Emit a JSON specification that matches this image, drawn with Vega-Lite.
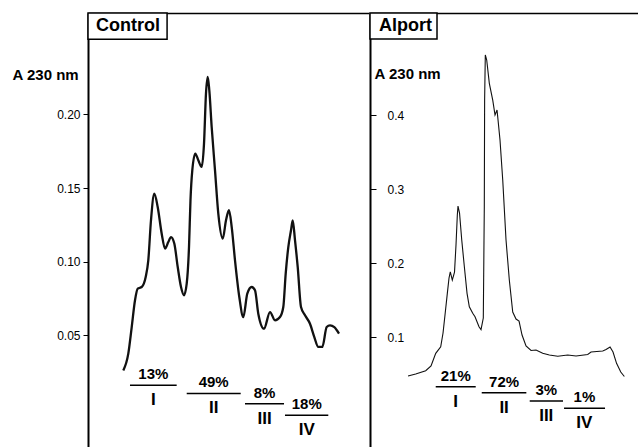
{
  "$schema": "https://vega.github.io/schema/vega-lite/v6.json",
  "padding": {"left": 12, "top": 12, "right": 0, "bottom": 0},
  "spacing": 0,
  "config": {
    "view": {"stroke": null},
    "font": "Liberation Sans",
    "axis": {"grid": false, "labelFont": "Liberation Sans", "labelFontSize": 12, "labelColor": "#000", "tickColor": "#000", "domainColor": "#000", "titleFont": "Liberation Sans", "titleColor": "#000"},
    "text": {"font": "Liberation Sans", "color": "#000"}
  },
  "datasets": {
    "control": [
      {"t": 8.79, "a": 0.0262}, {"t": 10.04, "a": 0.0376}, {"t": 10.89, "a": 0.0556}, {"t": 11.71, "a": 0.0738},
      {"t": 12.38, "a": 0.0817}, {"t": 13.38, "a": 0.0828}, {"t": 14.37, "a": 0.0896}, {"t": 15.02, "a": 0.1009},
      {"t": 15.69, "a": 0.1281}, {"t": 16.52, "a": 0.1462}, {"t": 17.36, "a": 0.1371}, {"t": 18.36, "a": 0.119},
      {"t": 19.18, "a": 0.1089}, {"t": 20.0, "a": 0.1133}, {"t": 20.68, "a": 0.1167}, {"t": 21.5, "a": 0.1123},
      {"t": 22.35, "a": 0.0964}, {"t": 23.17, "a": 0.0828}, {"t": 23.91, "a": 0.0772}, {"t": 24.59, "a": 0.0851},
      {"t": 25.16, "a": 0.1099}, {"t": 25.53, "a": 0.1417}, {"t": 25.98, "a": 0.162}, {"t": 26.73, "a": 0.1734},
      {"t": 27.48, "a": 0.1688}, {"t": 28.32, "a": 0.1643}, {"t": 28.9, "a": 0.1801}, {"t": 29.39, "a": 0.2141},
      {"t": 29.82, "a": 0.2254}, {"t": 30.22, "a": 0.2163}, {"t": 30.81, "a": 0.1914}, {"t": 31.64, "a": 0.162},
      {"t": 32.46, "a": 0.1326}, {"t": 33.56, "a": 0.1156}, {"t": 34.38, "a": 0.1281}, {"t": 35.12, "a": 0.1349},
      {"t": 35.8, "a": 0.1235}, {"t": 36.62, "a": 0.1009}, {"t": 37.69, "a": 0.076}, {"t": 38.69, "a": 0.0624},
      {"t": 39.68, "a": 0.0783}, {"t": 40.78, "a": 0.0828}, {"t": 41.6, "a": 0.0806}, {"t": 42.42, "a": 0.0647},
      {"t": 43.84, "a": 0.0545}, {"t": 45.34, "a": 0.0658}, {"t": 46.58, "a": 0.0602}, {"t": 47.83, "a": 0.0624},
      {"t": 48.65, "a": 0.0692}, {"t": 49.25, "a": 0.0919}, {"t": 49.9, "a": 0.1099}, {"t": 50.57, "a": 0.1213},
      {"t": 50.99, "a": 0.1281}, {"t": 51.57, "a": 0.1145}, {"t": 52.24, "a": 0.0964}, {"t": 53.06, "a": 0.0692},
      {"t": 54.06, "a": 0.0636}, {"t": 55.3, "a": 0.0579}, {"t": 56.38, "a": 0.0488}, {"t": 57.37, "a": 0.0421},
      {"t": 58.37, "a": 0.0421}, {"t": 59.46, "a": 0.0556}, {"t": 60.29, "a": 0.0568}, {"t": 61.36, "a": 0.0556},
      {"t": 62.53, "a": 0.0512}
    ],
    "alport": [
      {"t": 9.47, "a": 0.0478}, {"t": 11.38, "a": 0.0505}, {"t": 13.88, "a": 0.0549}, {"t": 15.2, "a": 0.0613},
      {"t": 16.37, "a": 0.0784}, {"t": 17.61, "a": 0.0873}, {"t": 18.19, "a": 0.1058}, {"t": 18.68, "a": 0.1301},
      {"t": 19.26, "a": 0.1594}, {"t": 19.68, "a": 0.18}, {"t": 20.0, "a": 0.1885}, {"t": 20.5, "a": 0.1773},
      {"t": 21.05, "a": 0.1881}, {"t": 21.42, "a": 0.2246}, {"t": 21.75, "a": 0.265}, {"t": 21.92, "a": 0.2772},
      {"t": 22.3, "a": 0.2677}, {"t": 22.85, "a": 0.2313}, {"t": 23.5, "a": 0.1953}, {"t": 24.17, "a": 0.1594},
      {"t": 24.74, "a": 0.1413}, {"t": 25.59, "a": 0.1324}, {"t": 26.16, "a": 0.1278}, {"t": 27.15, "a": 0.1143},
      {"t": 27.65, "a": 0.1105}, {"t": 28.22, "a": 0.126}, {"t": 28.47, "a": 0.2762}, {"t": 28.55, "a": 0.4202},
      {"t": 28.72, "a": 0.481}, {"t": 29.07, "a": 0.4742}, {"t": 29.72, "a": 0.4428}, {"t": 30.57, "a": 0.4202},
      {"t": 31.14, "a": 0.4}, {"t": 31.64, "a": 0.4067}, {"t": 31.89, "a": 0.3933}, {"t": 32.38, "a": 0.3663},
      {"t": 33.06, "a": 0.3123}, {"t": 33.88, "a": 0.2313}, {"t": 34.7, "a": 0.1773}, {"t": 35.55, "a": 0.1341},
      {"t": 36.37, "a": 0.1247}, {"t": 37.12, "a": 0.122}, {"t": 37.87, "a": 0.1031}, {"t": 38.86, "a": 0.0883},
      {"t": 40.11, "a": 0.0822}, {"t": 41.35, "a": 0.0829}, {"t": 43.02, "a": 0.0784}, {"t": 44.67, "a": 0.0761},
      {"t": 46.76, "a": 0.0745}, {"t": 49.25, "a": 0.0761}, {"t": 51.32, "a": 0.0748}, {"t": 54.23, "a": 0.0768},
      {"t": 55.05, "a": 0.0802}, {"t": 57.97, "a": 0.0815}, {"t": 58.79, "a": 0.0835}, {"t": 59.79, "a": 0.0869},
      {"t": 60.53, "a": 0.0802}, {"t": 61.41, "a": 0.0649}, {"t": 62.46, "a": 0.0532}, {"t": 63.35, "a": 0.0471}
    ],
    "fractions": [
      {"panel": "Control", "name": "I", "pct": "13%", "start": 10.46, "end": 22.09, "mid": 16.27, "level": 0.0161},
      {"panel": "Control", "name": "II", "pct": "49%", "start": 24.59, "end": 38.04, "mid": 31.3, "level": 0.0106},
      {"panel": "Control", "name": "III", "pct": "8%", "start": 39.11, "end": 48.83, "mid": 43.97, "level": 0.0036},
      {"panel": "Control", "name": "IV", "pct": "18%", "start": 49.07, "end": 59.86, "mid": 54.5, "level": -0.0043},
      {"panel": "Alport", "name": "I", "pct": "21%", "start": 16.37, "end": 26.33, "mid": 21.35, "level": 0.0333},
      {"panel": "Alport", "name": "II", "pct": "72%", "start": 27.83, "end": 38.94, "mid": 33.4, "level": 0.0252},
      {"panel": "Alport", "name": "III", "pct": "3%", "start": 39.78, "end": 48.08, "mid": 43.9, "level": 0.014},
      {"panel": "Alport", "name": "IV", "pct": "1%", "start": 48.33, "end": 58.54, "mid": 53.4, "level": 0.0042}
    ]
  },
  "hconcat": [
    {
      "width": 281,
      "height": 434,
      "layer": [
        {
          "data": {"name": "control"},
          "mark": {"type": "line", "color": "#111", "strokeWidth": 2.3, "interpolate": "monotone"},
          "encoding": {
            "x": {"field": "t", "type": "quantitative", "scale": {"domain": [0, 70], "nice": false, "zero": false},
                  "axis": {"orient": "top", "title": null, "labels": false, "ticks": false, "domainWidth": 1.5, "minExtent": 0}},
            "y": {"field": "a", "type": "quantitative", "scale": {"domain": [-0.0258, 0.2688], "nice": false, "zero": false},
                  "axis": {"values": [0.05, 0.1, 0.15, 0.2], "format": ".2f", "tickSize": 5, "labelPadding": 3, "domainWidth": 2,
                           "title": "A 230 nm", "titleAngle": 0, "titleX": -76, "titleY": 61, "titleAlign": "left", "titleBaseline": "middle",
                           "titleFontSize": 15, "titleFontWeight": "bold", "minExtent": 0}}
          }
        },
        {
          "data": {"name": "fractions"},
          "transform": [{"filter": "datum.panel === 'Control'"}],
          "mark": {"type": "rule", "color": "#000", "strokeWidth": 1.5},
          "encoding": {
            "x": {"field": "start", "type": "quantitative"},
            "x2": {"field": "end"},
            "y": {"field": "level", "type": "quantitative"}
          }
        },
        {
          "data": {"name": "fractions"},
          "transform": [{"filter": "datum.panel === 'Control'"}],
          "mark": {"type": "text", "dy": -11, "fontWeight": "bold", "fontSize": 15, "baseline": "middle", "align": "center"},
          "encoding": {
            "x": {"field": "mid", "type": "quantitative"},
            "y": {"field": "level", "type": "quantitative"},
            "text": {"field": "pct"}
          }
        },
        {
          "data": {"name": "fractions"},
          "transform": [{"filter": "datum.panel === 'Control'"}],
          "mark": {"type": "text", "dy": 15, "fontWeight": "bold", "fontSize": 17, "baseline": "middle", "align": "center"},
          "encoding": {
            "x": {"field": "mid", "type": "quantitative"},
            "y": {"field": "level", "type": "quantitative"},
            "text": {"field": "name"}
          }
        },
        {
          "data": {"values": [{"label": "Control"}]},
          "mark": {"type": "rect", "fill": "#fff", "stroke": "#000", "strokeWidth": 1.5},
          "encoding": {
            "x": {"datum": 0, "type": "quantitative"},
            "x2": {"datum": 19.7},
            "y": {"datum": 0.2688, "type": "quantitative"},
            "y2": {"datum": 0.251}
          }
        },
        {
          "data": {"values": [{"label": "Control"}]},
          "mark": {"type": "text", "fontWeight": "bold", "fontSize": 18, "baseline": "middle", "align": "center"},
          "encoding": {
            "x": {"datum": 9.96, "type": "quantitative"},
            "y": {"datum": 0.2598, "type": "quantitative"},
            "text": {"field": "label"}
          }
        }
      ]
    },
    {
      "width": 269,
      "height": 434,
      "layer": [
        {
          "data": {"name": "alport"},
          "mark": {"type": "line", "color": "#111", "strokeWidth": 1.1},
          "encoding": {
            "x": {"field": "t", "type": "quantitative", "scale": {"domain": [0, 67], "nice": false, "zero": false},
                  "axis": {"orient": "top", "title": null, "labels": false, "ticks": false, "domainWidth": 1.5, "minExtent": 0}},
            "y": {"field": "a", "type": "quantitative", "scale": {"domain": [-0.048, 0.5377], "nice": false, "zero": false},
                  "axis": {"values": [0.1, 0.2, 0.3, 0.4], "format": ".1f", "tickSize": -6, "labelPadding": -11, "labelAlign": "left", "domainWidth": 2,
                           "title": "A 230 nm", "titleAngle": 0, "titleX": 4, "titleY": 60, "titleAlign": "left", "titleBaseline": "middle",
                           "titleFontSize": 15, "titleFontWeight": "bold", "minExtent": 0}}
          }
        },
        {
          "data": {"name": "fractions"},
          "transform": [{"filter": "datum.panel === 'Alport'"}],
          "mark": {"type": "rule", "color": "#000", "strokeWidth": 1.5},
          "encoding": {
            "x": {"field": "start", "type": "quantitative"},
            "x2": {"field": "end"},
            "y": {"field": "level", "type": "quantitative"}
          }
        },
        {
          "data": {"name": "fractions"},
          "transform": [{"filter": "datum.panel === 'Alport'"}],
          "mark": {"type": "text", "dy": -11, "fontWeight": "bold", "fontSize": 15, "baseline": "middle", "align": "center"},
          "encoding": {
            "x": {"field": "mid", "type": "quantitative"},
            "y": {"field": "level", "type": "quantitative"},
            "text": {"field": "pct"}
          }
        },
        {
          "data": {"name": "fractions"},
          "transform": [{"filter": "datum.panel === 'Alport'"}],
          "mark": {"type": "text", "dy": 15, "fontWeight": "bold", "fontSize": 17, "baseline": "middle", "align": "center"},
          "encoding": {
            "x": {"field": "mid", "type": "quantitative"},
            "y": {"field": "level", "type": "quantitative"},
            "text": {"field": "name"}
          }
        },
        {
          "data": {"values": [{"label": "Alport"}]},
          "mark": {"type": "rect", "fill": "#fff", "stroke": "#000", "strokeWidth": 1.5},
          "encoding": {
            "x": {"datum": 0, "type": "quantitative"},
            "x2": {"datum": 16.69},
            "y": {"datum": 0.5377, "type": "quantitative"},
            "y2": {"datum": 0.5026}
          }
        },
        {
          "data": {"values": [{"label": "Alport"}]},
          "mark": {"type": "text", "fontWeight": "bold", "fontSize": 18, "baseline": "middle", "align": "center"},
          "encoding": {
            "x": {"datum": 8.84, "type": "quantitative"},
            "y": {"datum": 0.5201, "type": "quantitative"},
            "text": {"field": "label"}
          }
        }
      ]
    }
  ]
}
